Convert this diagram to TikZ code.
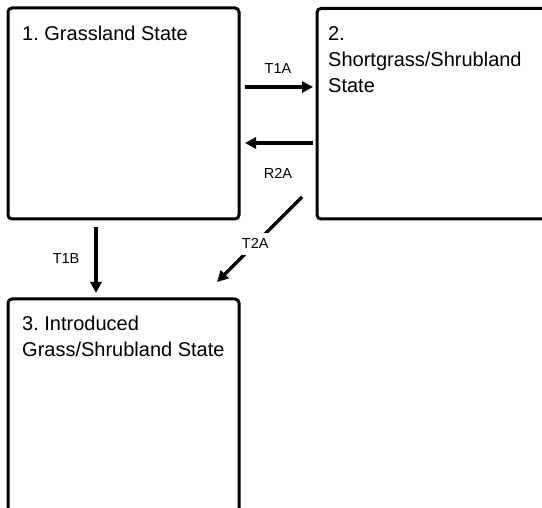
\documentclass[tikz,border=0pt]{standalone}
\usepackage{fontspec}
\setmainfont{Liberation Sans}
\usetikzlibrary{arrows.meta}
\frenchspacing

\begin{document}
\begin{tikzpicture}[x=1pt,y=-1pt,
statebox/.style={draw=black,line width=3pt,rounded corners=4pt,inner sep=0pt,outer sep=0pt},
statetext/.style={anchor=north west,align=left,inner sep=0pt,font=\fontsize{20}{26}\selectfont},
trans/.style={line width=3.2pt,-{Triangle[length=11pt,width=11pt]}},
translabel/.style={inner sep=0pt,font=\fontsize{14.5}{17}\selectfont}]
\useasboundingbox (0,0) rectangle (542,508);
\clip (0,0) rectangle (542,508);
\node[statebox,minimum width=231pt,minimum height=211pt] (s1) at (123.5,113.5) {};
\node[statebox,minimum width=253pt,minimum height=210.5pt] (s2) at (443.5,113.75) {};
\node[statebox,minimum width=231pt,minimum height=241pt] (s3) at (123.5,419.5) {};
\node[statetext] (t1) at ([xshift=14pt,yshift=-18pt]s1.north west) {1. Grassland State};
\node[statetext] (t2) at ([xshift=11pt,yshift=-17.5pt]s2.north west) {2.\\Shortgrass/Shrubland\\State};
\node[statetext] (t3) at ([xshift=14pt,yshift=-16.5pt]s3.north west) {3. Introduced\\Grass/Shrubland State};
\draw[trans,shorten <=6pt,shorten >=4pt] ([yshift=26.5pt]s1.east) -- node[translabel,above=12pt] (l1a) {T1A} ([yshift=26.75pt]s2.west);
\draw[trans,shorten <=4pt,shorten >=6pt] ([yshift=-29.25pt]s2.west) -- node[translabel,below=24pt] (l2a) {R2A} ([yshift=-29.5pt]s1.east);
\draw[trans,shorten <=8pt,shorten >=6pt] ([xshift=-27.5pt]s1.south) -- node[translabel,left=15pt] (l1b) {T1B} ([xshift=-27.5pt]s3.north);
\draw[trans] ([xshift=-15pt,yshift=22pt]s2.south west) -- node[translabel,pos=0.55,fill=white,inner sep=6pt] (l2t) {T2A} ([xshift=-22pt,yshift=17pt]s3.north east);
\end{tikzpicture}
\end{document}
